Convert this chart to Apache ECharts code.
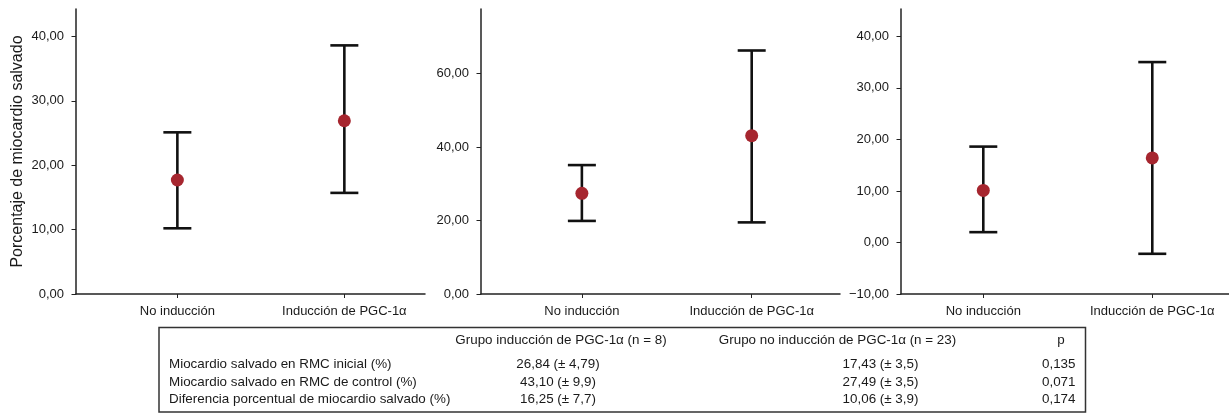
<!DOCTYPE html>
<html>
<head>
<meta charset="utf-8">
<script src="https://cdn.jsdelivr.net/npm/echarts@6/dist/echarts.min.js"></script>
<style>
html,body{margin:0;padding:0;background:#fff;}
#chart{width:1229px;height:414px;}
</style>
</head>
<body>
<div id="chart"></div>
<script>
// ---- data ----
const categories = ['No inducción', 'Inducción de PGC-1α'];
const yAxisTitle = 'Porcentaje de miocardio salvado';

// Panel 1: RMC inicial
const p1Mean = [17.7, 26.9];
const p1Low  = [10.2, 15.7];
const p1High = [25.1, 38.6];
const p1Ticks = [0, 10, 20, 30, 40];

// Panel 2: RMC de control
const p2Mean = [27.4, 43.1];
const p2Low  = [19.9, 19.5];
const p2High = [35.1, 66.3];
const p2Ticks = [0, 20, 40, 60];

// Panel 3: diferencia
const p3Mean = [10.1, 16.4];
const p3Low  = [2.0, -2.2];
const p3High = [18.6, 35.0];
const p3Ticks = [-10, 0, 10, 20, 30, 40];

// Table
const tableHeaders = ['Grupo inducción de PGC-1α (n = 8)', 'Grupo no inducción de PGC-1α (n = 23)', 'p'];
const rowLabels = ['Miocardio salvado en RMC inicial (%)', 'Miocardio salvado en RMC de control (%)', 'Diferencia porcentual de miocardio salvado (%)'];
const groupPGC = ['26,84 (± 4,79)', '43,10 (± 9,9)', '16,25 (± 7,7)'];
const groupNo = ['17,43 (± 3,5)', '27,49 (± 3,5)', '10,06 (± 3,9)'];
const pValues = ['0,135', '0,071', '0,174'];

// ---- chart ----
const FONT = '"Liberation Sans", Arial, sans-serif';
const TXT = '#1a1a1a';
const AX = '#222';

const panels = [
  {mean: p1Mean, low: p1Low, high: p1High, ticks: p1Ticks, ymin: 0, ymax: 44.25, xmin: 0.393, xmax: 2.483, grid: {left: 76, top: 9, width: 349, bottom: 120}},
  {mean: p2Mean, low: p2Low, high: p2High, ticks: p2Ticks, ymin: 0, ymax: 77.6, xmin: 0.406, xmax: 2.52, grid: {left: 481, top: 9, width: 359, bottom: 120}},
  {mean: p3Mean, low: p3Low, high: p3High, ticks: p3Ticks, ymin: -10, ymax: 45.3, xmin: 0.513, xmax: 2.454, grid: {left: 901, top: 9, right: 0, bottom: 120}}
];

function fmt(v) {
  let s = Math.abs(v).toFixed(2).replace('.', ',');
  return (v < 0 ? '\u2212' : '') + s;
}

const grids = [], xAxes = [], yAxes = [], series = [];
panels.forEach((p, i) => {
  grids.push(Object.assign({containLabel: false}, p.grid));
  xAxes.push({
    type: 'value', gridIndex: i, min: p.xmin, max: p.xmax,
    axisLine: {onZero: false, lineStyle: {color: AX, width: 1.5}},
    axisTick: {show: true, length: 4, customValues: [1, 2], lineStyle: {color: AX, width: 1}},
    axisLabel: {customValues: [1, 2], margin: 11, color: TXT, fontSize: 13, fontFamily: FONT,
      formatter: v => categories[Math.round(v) - 1] || ''},
    splitLine: {show: false}
  });
  yAxes.push({
    type: 'value', gridIndex: i, min: p.ymin, max: p.ymax,
    name: i === 0 ? yAxisTitle : '',
    nameLocation: 'middle', nameGap: 50, nameRotate: 90,
    nameTextStyle: {color: TXT, fontSize: 16, fontFamily: FONT},
    axisLine: {show: true, lineStyle: {color: AX, width: 1.5}},
    axisTick: {show: true, length: 4.5, customValues: p.ticks, lineStyle: {color: AX, width: 1}},
    axisLabel: {customValues: p.ticks, margin: 12, color: TXT, fontSize: 13, fontFamily: FONT, formatter: fmt},
    splitLine: {show: false}
  });
  series.push({
    type: 'custom', xAxisIndex: i, yAxisIndex: i,
    data: p.low.map((lo, k) => [k + 1, lo, p.high[k]]),
    encode: {x: 0, y: [1, 2]},
    renderItem: (params, api) => {
      const x = api.value(0);
      const a = api.coord([x, api.value(1)]);
      const b = api.coord([x, api.value(2)]);
      const w = 14;
      const st = {stroke: '#111', lineWidth: 2.6};
      return {type: 'group', children: [
        {type: 'line', shape: {x1: a[0], y1: a[1], x2: b[0], y2: b[1]}, style: st},
        {type: 'line', shape: {x1: a[0] - w, y1: a[1], x2: a[0] + w, y2: a[1]}, style: st},
        {type: 'line', shape: {x1: b[0] - w, y1: b[1], x2: b[0] + w, y2: b[1]}, style: st}
      ]};
    },
    z: 2, silent: true
  });
  series.push({
    type: 'scatter', xAxisIndex: i, yAxisIndex: i,
    data: p.mean.map((m, k) => [k + 1, m]),
    symbol: 'circle', symbolSize: 13,
    itemStyle: {color: '#a6262f', opacity: 1},
    z: 3, silent: true
  });
});

// table graphic
const TF = '13.4px ' + FONT;
const graphics = [{
  type: 'rect', shape: {x: 159, y: 327.5, width: 926.5, height: 84.5},
  style: {fill: 'none', stroke: '#333', lineWidth: 1.5}, silent: true
}];
const headerY = 340.5, rowY = [364.5, 382, 399];
graphics.push({type: 'text', x: 561, y: headerY, style: {text: tableHeaders[0], font: TF, fill: TXT, textAlign: 'center', textVerticalAlign: 'middle'}});
graphics.push({type: 'text', x: 837.5, y: headerY, style: {text: tableHeaders[1], font: TF, fill: TXT, textAlign: 'center', textVerticalAlign: 'middle'}});
graphics.push({type: 'text', x: 1061, y: headerY, style: {text: tableHeaders[2], font: TF, fill: TXT, textAlign: 'center', textVerticalAlign: 'middle'}});
rowLabels.forEach((r, k) => {
  graphics.push({type: 'text', x: 169, y: rowY[k], style: {text: r, font: TF, fill: TXT, textAlign: 'left', textVerticalAlign: 'middle'}});
  graphics.push({type: 'text', x: 558, y: rowY[k], style: {text: groupPGC[k], font: TF, fill: TXT, textAlign: 'center', textVerticalAlign: 'middle'}});
  graphics.push({type: 'text', x: 880.5, y: rowY[k], style: {text: groupNo[k], font: TF, fill: TXT, textAlign: 'center', textVerticalAlign: 'middle'}});
  graphics.push({type: 'text', x: 1075.5, y: rowY[k], style: {text: pValues[k], font: TF, fill: TXT, textAlign: 'right', textVerticalAlign: 'middle'}});
});

const chart = echarts.init(document.getElementById('chart'), null, {renderer: 'canvas'});
chart.setOption({
  animation: false,
  backgroundColor: '#fff',
  grid: grids, xAxis: xAxes, yAxis: yAxes, series: series,
  graphic: graphics
});
</script>
</body>
</html>
